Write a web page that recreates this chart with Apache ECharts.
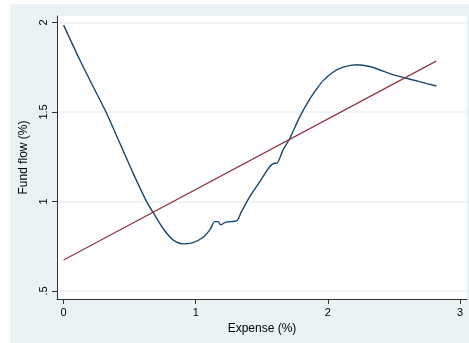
<!DOCTYPE html>
<html>
<head>
<meta charset="utf-8">
<script src="https://cdn.jsdelivr.net/npm/echarts@6/dist/echarts.min.js"></script>
<style>
  html, body { margin: 0; padding: 0; background: #ffffff; }
  #chart { width: 469px; height: 343px; }
</style>
</head>
<body>
<div id="chart"></div>
<script>
// Nonparametric fit of fund flow against expense ratio
const expense = [0.00, 0.123, 0.224, 0.325, 0.426, 0.526, 0.628, 0.678, 0.753, 0.829,
  0.905, 0.980, 1.056, 1.107, 1.144, 1.170, 1.188, 1.220, 1.258, 1.309,
  1.346, 1.409, 1.485, 1.560, 1.598, 1.611, 1.661, 1.712, 1.788, 1.864,
  1.914, 1.964, 2.039, 2.115, 2.216, 2.317, 2.418, 2.519, 2.595, 2.695, 2.821];
const fundFlow = [1.985, 1.790, 1.641, 1.493, 1.325, 1.158, 0.999, 0.937, 0.849, 0.785,
  0.763, 0.770, 0.800, 0.841, 0.887, 0.887, 0.869, 0.882, 0.887, 0.891,
  0.943, 1.027, 1.111, 1.194, 1.213, 1.213, 1.288, 1.353, 1.474, 1.573,
  1.627, 1.675, 1.722, 1.750, 1.764, 1.754, 1.728, 1.703, 1.688, 1.669, 1.645];

// Linear fit endpoints
const fitExpense = [0.00, 2.82];
const fitFlow = [0.673, 1.784];

// Axis ticks
const xTicks = [0, 1, 2, 3];
const yTicks = [0.5, 1, 1.5, 2];

const pairs = (xs, ys) => xs.map((x, i) => [x, ys[i]]);
const yFmt = v => (v === 0.5 ? '.5' : String(v));

const chart = echarts.init(document.getElementById('chart'), null, { renderer: 'canvas' });
chart.setOption({
  animation: false,
  backgroundColor: '#ffffff',
  graphic: [{
    type: 'rect',
    z: -10,
    shape: { x: 10, y: 4, width: 470, height: 350 },
    style: { fill: '#eaf2f3' }
  }],
  grid: {
    left: 57, top: 16, right: 2, bottom: 44,
    show: true, backgroundColor: '#ffffff', borderWidth: 0
  },
  xAxis: {
    type: 'value',
    min: -0.05, max: 3.053,
    name: 'Expense (%)',
    nameLocation: 'middle',
    nameGap: 21,
    nameTextStyle: { fontFamily: 'Liberation Sans', fontSize: 12, color: '#000' },
    axisLine: { show: true, onZero: false, lineStyle: { color: '#333', width: 1 } },
    axisTick: { show: true, length: 5, customValues: xTicks, lineStyle: { color: '#333' } },
    axisLabel: {
      customValues: xTicks, margin: 8,
      fontFamily: 'Liberation Sans', fontSize: 11, color: '#000'
    },
    splitLine: { show: false }
  },
  yAxis: {
    type: 'value',
    min: 0.455, max: 2.036,
    name: 'Fund flow (%)',
    nameLocation: 'middle',
    nameRotate: 90,
    nameGap: 21,
    nameTextStyle: { fontFamily: 'Liberation Sans', fontSize: 12, color: '#000' },
    axisLine: { show: true, onZero: false, lineStyle: { color: '#333', width: 1 } },
    axisTick: { show: true, length: 5, customValues: yTicks, lineStyle: { color: '#333' } },
    axisLabel: {
      customValues: yTicks, rotate: 90, margin: 8,
      fontFamily: 'Liberation Sans', fontSize: 11, color: '#000',
      formatter: yFmt
    },
    splitLine: { show: true, lineStyle: { color: '#eaf2f3', width: 1.5 } }
  },
  series: [
    {
      type: 'line',
      data: pairs(expense, fundFlow),
      showSymbol: false,
      smooth: 0.3,
      lineStyle: { color: '#1a476f', width: 1.4 }
    },
    {
      type: 'line',
      data: pairs(fitExpense, fitFlow),
      showSymbol: false,
      lineStyle: { color: '#90353b', width: 1.2 }
    }
  ]
});
</script>
</body>
</html>
